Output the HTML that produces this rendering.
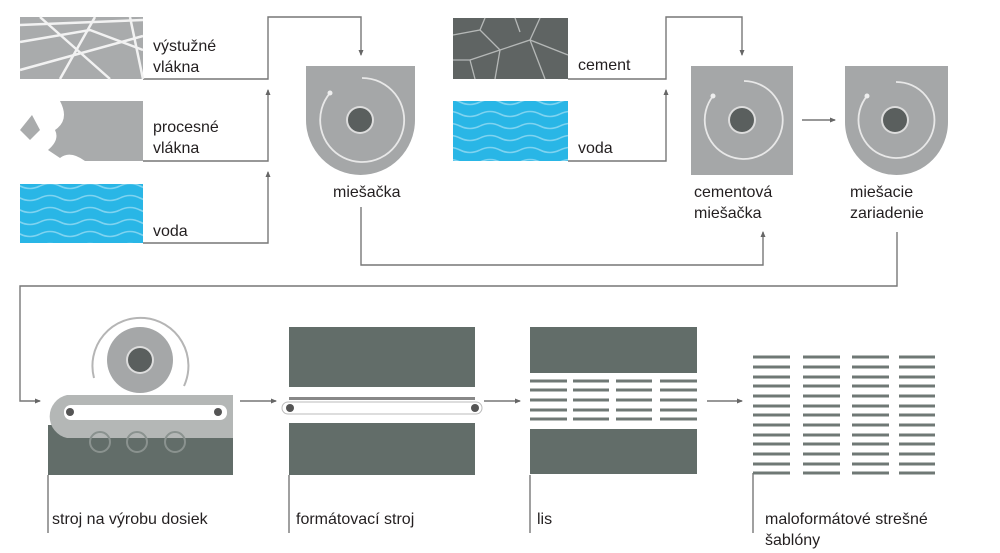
<!DOCTYPE html>
<html><head><meta charset="utf-8"><style>
html,body{margin:0;padding:0;background:#fff}
svg{display:block}
text{font-family:"Liberation Sans",sans-serif;font-size:16px;fill:#231f20}
</style></head><body>
<svg width="1000" height="553" viewBox="0 0 1000 553" xmlns="http://www.w3.org/2000/svg">
<defs>
<marker id="a" markerWidth="6" markerHeight="6" refX="5" refY="3" orient="auto" markerUnits="userSpaceOnUse"><path d="M0,0.5 L6,3 L0,5.5z" fill="#666"/></marker>
<pattern id="w" width="40" height="12" patternUnits="userSpaceOnUse">
<rect width="40" height="12" fill="#29b6e6"/>
<path d="M0,6 Q10,1 20,6 T40,6" fill="none" stroke="#7fd3f0" stroke-width="1.6"/>
</pattern>
</defs>
<g fill="none" stroke="#777" stroke-width="1.4">
<polyline points="143,79 268,79 268,17 361,17 361,55" marker-end="url(#a)"/>
<polyline points="143,161 268,161 268,90" marker-end="url(#a)"/>
<polyline points="143,243 268,243 268,172" marker-end="url(#a)"/>
<polyline points="361,207 361,265 763,265 763,232" marker-end="url(#a)"/>
<polyline points="568,79 666,79 666,17 742,17 742,55" marker-end="url(#a)"/>
<polyline points="568,161 666,161 666,90" marker-end="url(#a)"/>
<line x1="802" y1="120" x2="835" y2="120" marker-end="url(#a)"/>
<polyline points="897,232 897,286 20,286 20,401 40,401" marker-end="url(#a)"/>
<line x1="240" y1="401" x2="276" y2="401" marker-end="url(#a)"/>
<line x1="484" y1="401" x2="520" y2="401" marker-end="url(#a)"/>
<line x1="707" y1="401" x2="742" y2="401" marker-end="url(#a)"/>
<line x1="48" y1="475" x2="48" y2="533"/>
<line x1="289" y1="475" x2="289" y2="533"/>
<line x1="530" y1="475" x2="530" y2="533"/>
<line x1="753" y1="473" x2="753" y2="533"/>
</g>
<rect x="20" y="17" width="123" height="62" fill="#a9abac"/>
<g stroke="#f2f2f2" stroke-width="2.5" fill="none">
<path d="M20,42 L90,30 L143,50"/><path d="M40,17 L110,79"/><path d="M20,70 L143,36"/><path d="M95,17 L60,79"/><path d="M130,17 L143,79"/><path d="M20,25 L143,20"/>
</g>
<rect x="20" y="100" width="123" height="61" fill="#fff"/>
<path d="M60,101 L143,101 L143,161 L85,161 Q70,150 60,158 L48,150 Q60,140 55,130 Q70,120 60,101z" fill="#a9abac"/>
<path d="M20,130 L32,115 L40,130 L30,140z" fill="#a9abac"/>
<rect x="20" y="184" width="123" height="59" fill="url(#w)"/>
<rect x="453" y="18" width="115" height="61" fill="#5f6463"/>
<g stroke="#b5b8b7" stroke-width="1.3" fill="none">
<path d="M453,35 L480,30 L500,50 L530,40 L568,55"/><path d="M480,30 L485,18"/><path d="M500,50 L495,79"/><path d="M530,40 L540,18"/><path d="M530,40 L545,79"/><path d="M470,60 L500,50"/><path d="M453,60 L470,60 L475,79"/><path d="M515,18 L520,32"/>
</g>
<rect x="453" y="101" width="115" height="60" fill="url(#w)"/>
<g>
<path d="M306,66 H415 V120 A54.5,55 0 0 1 306,120z" fill="#a5a7a8"/>
<path d="M330,93 A42,42 0 1 0 362,78" fill="none" stroke="#e8e8e8" stroke-width="1.8"/>
<circle cx="330" cy="93" r="2.5" fill="#eee"/>
<circle cx="360" cy="120" r="14" fill="#ddd"/><circle cx="360" cy="120" r="12" fill="#5a5f5e"/>
</g>
<g>
<rect x="691" y="66" width="102" height="109" fill="#a5a7a8"/>
<path d="M713,96 A39,39 0 1 0 744,81" fill="none" stroke="#e8e8e8" stroke-width="1.8"/>
<circle cx="713" cy="96" r="2.5" fill="#eee"/>
<circle cx="742" cy="120" r="14" fill="#ddd"/><circle cx="742" cy="120" r="12" fill="#5a5f5e"/>
</g>
<g>
<path d="M845,66 H948 V122 A51.5,53 0 0 1 845,122z" fill="#a5a7a8"/>
<path d="M867,96 A38,38 0 1 0 896,82" fill="none" stroke="#e8e8e8" stroke-width="1.8"/>
<circle cx="867" cy="96" r="2.5" fill="#eee"/>
<circle cx="895" cy="120" r="14" fill="#ddd"/><circle cx="895" cy="120" r="12" fill="#5a5f5e"/>
</g>
<rect x="48" y="425" width="185" height="50" fill="#626d69"/>
<path d="M233,395 H67 A22,22 0 0 0 67,438 H233z" fill="#b4b7b6"/>
<rect x="64" y="405" width="163" height="15" rx="7" fill="#fff"/>
<circle cx="70" cy="412" r="4" fill="#555"/><circle cx="218" cy="412" r="4" fill="#555"/>
<g fill="none" stroke="#8a928f" stroke-width="2"><circle cx="100" cy="442" r="10"/><circle cx="137" cy="442" r="10"/><circle cx="175" cy="442" r="10"/></g>
<circle cx="140" cy="360" r="33" fill="#a5a7a8"/>
<circle cx="140" cy="360" r="14" fill="#ddd"/><circle cx="140" cy="360" r="12" fill="#5a5f5e"/>
<path d="M94,378 A48,48 0 1 1 184,386" fill="none" stroke="#b5b5b5" stroke-width="2"/>
<rect x="289" y="327" width="186" height="60" fill="#626d69"/>
<rect x="289" y="397" width="186" height="3" fill="#888"/>
<rect x="282" y="402" width="200" height="12" rx="6" fill="#fff" stroke="#bbb"/>
<circle cx="290" cy="408" r="4" fill="#555"/><circle cx="475" cy="408" r="4" fill="#555"/>
<rect x="289" y="423" width="186" height="52" fill="#626d69"/>
<rect x="530" y="327" width="167" height="46" fill="#626d69"/>
<rect x="530" y="429" width="167" height="45" fill="#626d69"/>
<g stroke="#6f7875" stroke-width="3">
<path d="M530,381H567M573,381H609M616,381H652M660,381H697"/>
<path d="M530,390H567M573,390H609M616,390H652M660,390H697"/>
<path d="M530,400H567M573,400H609M616,400H652M660,400H697"/>
<path d="M530,410H567M573,410H609M616,410H652M660,410H697"/>
<path d="M530,419H567M573,419H609M616,419H652M660,419H697"/>
</g>
<g stroke="#6f7875" stroke-width="3">
<path d="M753,357H790M803,357H840M852,357H889M899,357H935"/>
<path d="M753,367H790M803,367H840M852,367H889M899,367H935"/>
<path d="M753,377H790M803,377H840M852,377H889M899,377H935"/>
<path d="M753,386H790M803,386H840M852,386H889M899,386H935"/>
<path d="M753,396H790M803,396H840M852,396H889M899,396H935"/>
<path d="M753,406H790M803,406H840M852,406H889M899,406H935"/>
<path d="M753,415H790M803,415H840M852,415H889M899,415H935"/>
<path d="M753,425H790M803,425H840M852,425H889M899,425H935"/>
<path d="M753,435H790M803,435H840M852,435H889M899,435H935"/>
<path d="M753,444H790M803,444H840M852,444H889M899,444H935"/>
<path d="M753,454H790M803,454H840M852,454H889M899,454H935"/>
<path d="M753,464H790M803,464H840M852,464H889M899,464H935"/>
<path d="M753,473H790M803,473H840M852,473H889M899,473H935"/>
</g>
<text x="153" y="51">výstužné</text><text x="153" y="72">vlákna</text>
<text x="153" y="132">procesné</text><text x="153" y="153">vlákna</text>
<text x="153" y="236">voda</text>
<text x="333" y="197">miešačka</text>
<text x="578" y="70">cement</text>
<text x="578" y="153">voda</text>
<text x="694" y="197">cementová</text><text x="694" y="218">miešačka</text>
<text x="850" y="197">miešacie</text><text x="850" y="218">zariadenie</text>
<text x="52" y="524">stroj na výrobu dosiek</text>
<text x="296" y="524">formátovací stroj</text>
<text x="537" y="524">lis</text>
<text x="765" y="524">maloformátové strešné</text><text x="765" y="545">šablóny</text>
</svg>
</body></html>
